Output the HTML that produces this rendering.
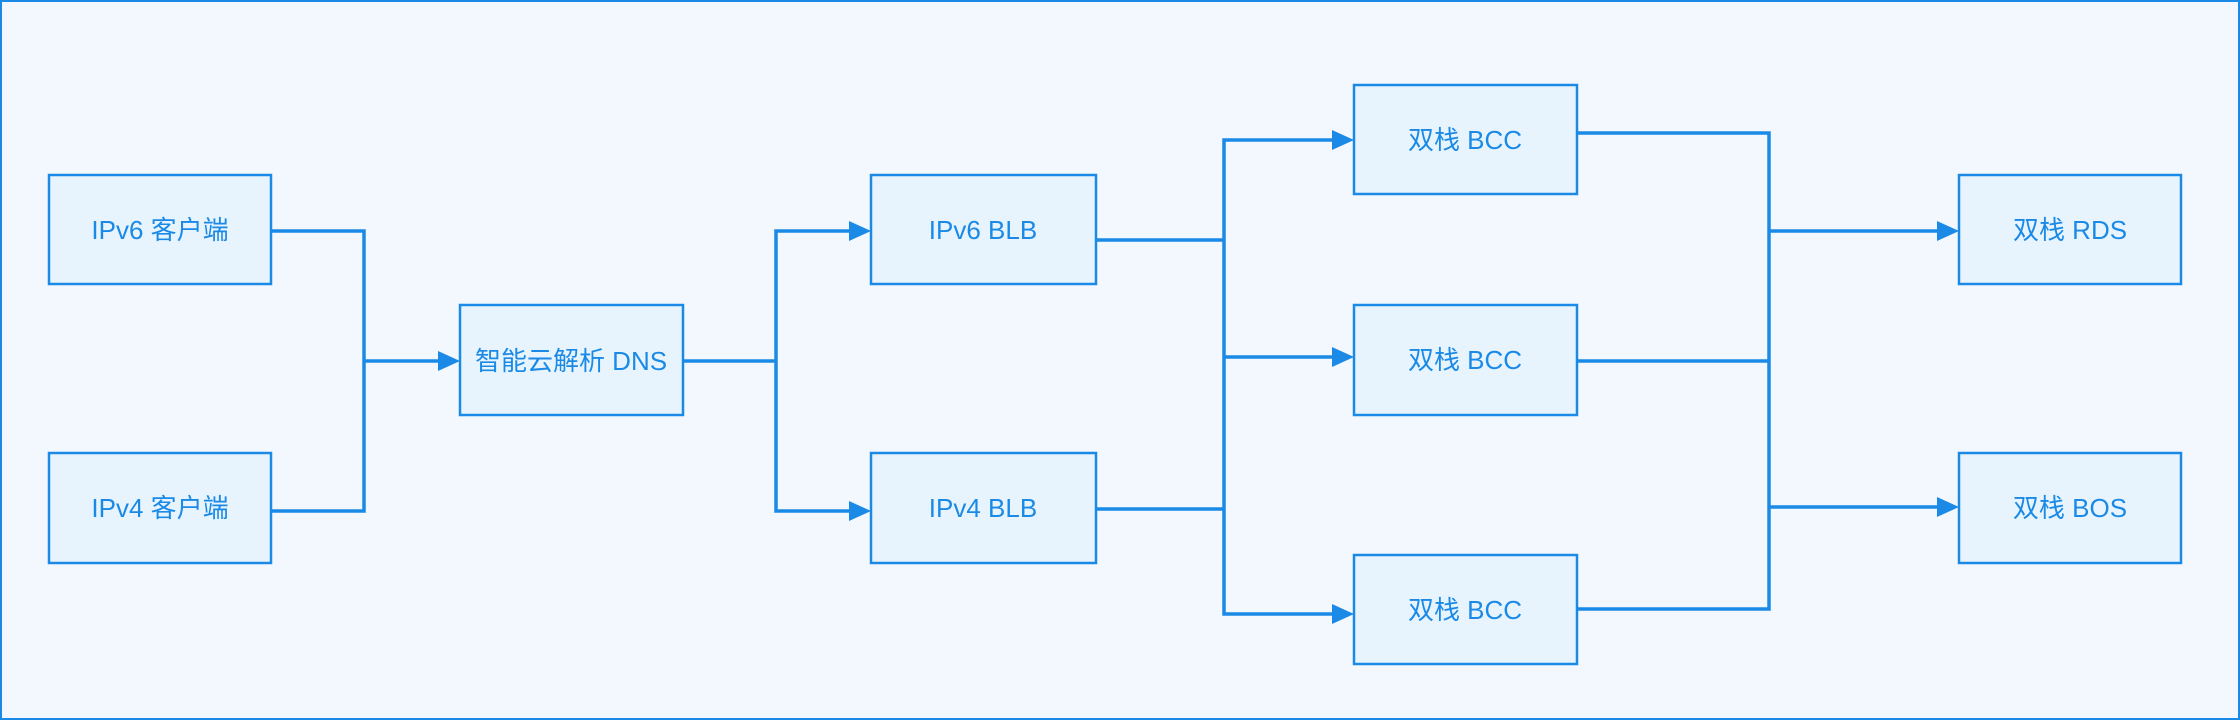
<!DOCTYPE html>
<html><head><meta charset="utf-8"><style>
html,body{margin:0;padding:0;background:#f3f8fe}
svg{display:block}
text{font-family:"Liberation Sans","Noto Sans CJK SC",sans-serif;font-size:26px;fill:#1a8ae6;text-anchor:middle;dominant-baseline:central}
</style></head><body>
<svg width="2240" height="720" viewBox="0 0 2240 720">
<rect x="1" y="1" width="2238" height="718" fill="#f3f8fe" stroke="#1a8ae6" stroke-width="2"/>
<g fill="none" stroke="#1a8ae6" stroke-width="3.5">
<polyline points="271,231 364,231 364,511 271,511"/>
<line x1="364" y1="361" x2="442" y2="361"/>
<line x1="683" y1="361" x2="776" y2="361"/>
<polyline points="853,231 776,231 776,511 853,511"/>
<polyline points="1096,240 1224,240"/>
<polyline points="1096,509 1224,509"/>
<polyline points="1336,140 1224,140 1224,614 1336,614"/>
<line x1="1224" y1="357" x2="1336" y2="357"/>
<polyline points="1577,133 1769,133 1769,609 1577,609"/>
<line x1="1577" y1="361" x2="1769" y2="361"/>
<line x1="1769" y1="231" x2="1941" y2="231"/>
<line x1="1769" y1="507" x2="1941" y2="507"/>
</g>
<g fill="#1a8ae6">
<path d="M438,351 L460,361 L438,371z"/>
<path d="M849,221 L871,231 L849,241z"/>
<path d="M849,501 L871,511 L849,521z"/>
<path d="M1332,130 L1354,140 L1332,150z"/>
<path d="M1332,347 L1354,357 L1332,367z"/>
<path d="M1332,604 L1354,614 L1332,624z"/>
<path d="M1937,221 L1959,231 L1937,241z"/>
<path d="M1937,497 L1959,507 L1937,517z"/>
</g>
<g fill="#e8f4fd" stroke="#1a8ae6" stroke-width="2.5">
<rect x="49" y="175" width="222" height="109"/>
<rect x="49" y="453" width="222" height="110"/>
<rect x="460" y="305" width="223" height="110"/>
<rect x="871" y="175" width="225" height="109"/>
<rect x="871" y="453" width="225" height="110"/>
<rect x="1354" y="85" width="223" height="109"/>
<rect x="1354" y="305" width="223" height="110"/>
<rect x="1354" y="555" width="223" height="109"/>
<rect x="1959" y="175" width="222" height="109"/>
<rect x="1959" y="453" width="222" height="110"/>
</g>
<text x="160" y="230">IPv6 客户端</text>
<text x="160" y="508">IPv4 客户端</text>
<text x="571" y="361">智能云解析 DNS</text>
<text x="983" y="230">IPv6 BLB</text>
<text x="983" y="508">IPv4 BLB</text>
<text x="1465" y="140">双栈 BCC</text>
<text x="1465" y="360">双栈 BCC</text>
<text x="1465" y="610">双栈 BCC</text>
<text x="2070" y="230">双栈 RDS</text>
<text x="2070" y="508">双栈 BOS</text>
</svg>
</body></html>
